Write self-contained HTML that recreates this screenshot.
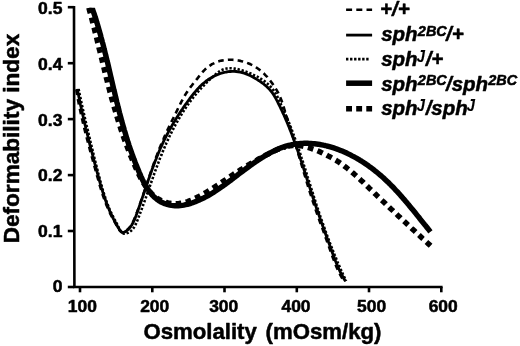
<!DOCTYPE html>
<html><head><meta charset="utf-8"><title>Deformability index vs Osmolality</title>
<style>
html,body{margin:0;padding:0;background:#fff;}
body{width:520px;height:346px;overflow:hidden;position:relative;font-family:"Liberation Sans",sans-serif;}
</style></head><body>
<svg width="520" height="346" viewBox="0 0 520 346" style="position:absolute;left:0;top:0;display:block;will-change:transform">
<rect width="520" height="346" fill="#fff"/>
<defs><clipPath id="plotclip"><rect x="60" y="7.8" width="460" height="300"/></clipPath></defs>
<g fill="none" stroke="#000" stroke-linejoin="round" clip-path="url(#plotclip)">
<path d="M86.6,-0.2 L87.1,1.7 L87.6,3.5 L88.1,5.3 L88.6,7.1 L89.1,8.9 L89.6,10.7 L90.1,12.5 L90.6,14.3 L91.0,16.1 L91.5,17.9 L92.0,19.7 L92.4,21.5 L92.9,23.3 L93.4,25.0 L93.8,26.8 L94.3,28.6 L94.7,30.4 L95.1,32.1 L95.6,33.9 L96.0,35.6 L96.5,37.4 L96.9,39.2 L97.3,40.9 L97.7,42.7 L98.2,44.4 L98.6,46.1 L99.0,47.9 L99.4,49.6 L99.9,51.4 L100.3,53.1 L100.7,54.8 L101.1,56.6 L101.6,58.3 L102.0,60.0 L102.4,61.8 L102.8,63.5 L103.2,65.2 L103.7,66.9 L104.1,68.6 L104.5,70.4 L104.9,72.1 L105.3,73.8 L105.8,75.5 L106.2,77.2 L106.6,78.9 L107.1,80.6 L107.5,82.3 L107.9,84.1 L108.4,85.8 L108.8,87.5 L109.3,89.2 L109.7,90.9 L110.2,92.6 L110.6,94.3 L111.1,96.0 L111.5,97.7 L112.0,99.4 L112.5,101.1 L112.9,102.8 L113.4,104.5 L113.9,106.2 L114.4,107.9 L114.9,109.6 L115.4,111.3 L115.9,113.0 L116.4,114.7 L116.9,116.4 L117.4,118.1 L117.9,119.8 L118.5,121.5 L119.0,123.2 L119.5,124.9 L120.1,126.6 L120.6,128.3 L121.2,130.0 L121.8,131.7 L122.4,133.4 L122.9,135.1 L123.5,136.8 L124.1,138.5 L124.7,140.2 L125.4,141.9 L126.0,143.6 L126.6,145.3 L127.3,147.0 L127.9,148.7 L128.6,150.4 L129.2,152.2 L129.9,153.9 L130.6,155.6 L131.3,157.3 L132.0,159.0 L132.7,160.7 L133.5,162.5 L134.2,164.2 L135.0,165.9 L135.7,167.6 L136.5,169.4 L137.3,171.1 L138.1,172.8 L138.9,174.5 L139.8,176.2 L140.6,177.8 L141.5,179.5 L142.4,181.1 L143.4,182.7 L144.3,184.2 L145.3,185.7 L146.3,187.2 L147.4,188.6 L148.5,190.0 L149.6,191.4 L150.7,192.7 L151.9,193.9 L153.2,195.1 L154.5,196.2 L155.8,197.2 L157.1,198.2 L158.6,199.1 L160.0,200.0 L161.5,200.7 L163.1,201.4 L164.7,202.0 L166.4,202.5 L168.1,202.9 L169.8,203.2 L171.6,203.5 L173.4,203.6 L175.2,203.7 L177.0,203.6 L178.9,203.5 L180.7,203.3 L182.5,202.9 L184.3,202.5 L186.1,202.0 L187.8,201.5 L189.5,200.8 L191.3,200.1 L193.0,199.4 L194.6,198.6 L196.3,197.8 L197.9,196.9 L199.6,196.1 L201.2,195.2 L202.8,194.3 L204.4,193.4 L205.9,192.5 L207.5,191.5 L209.0,190.6 L210.5,189.6 L212.1,188.7 L213.6,187.7 L215.1,186.7 L216.6,185.7 L218.1,184.8 L219.5,183.8 L221.0,182.8 L222.5,181.8 L224.0,180.8 L225.5,179.8 L226.9,178.8 L228.4,177.8 L229.9,176.8 L231.4,175.8 L232.9,174.8 L234.3,173.8 L235.8,172.8 L237.3,171.9 L238.8,170.9 L240.3,169.9 L241.9,169.0 L243.4,168.0 L244.9,167.1 L246.4,166.1 L247.9,165.2 L249.5,164.3 L251.0,163.4 L252.6,162.5 L254.1,161.5 L255.7,160.6 L257.3,159.8 L258.8,158.9 L260.4,158.0 L262.0,157.1 L263.6,156.3 L265.2,155.4 L266.9,154.6 L268.5,153.8 L270.1,152.9 L271.8,152.1 L273.4,151.3 L275.1,150.6 L276.8,149.8 L278.5,149.1 L280.1,148.5 L281.8,147.9 L283.6,147.3 L285.3,146.8" stroke-width="5.4" stroke-dasharray="5.7 4.5" stroke-dashoffset="-8.26"/>
<path d="M430.6,245.8 L429.3,244.6 L427.9,243.4 L426.6,242.1 L425.3,240.9 L424.0,239.7 L422.6,238.5 L421.3,237.3 L420.0,236.0 L418.7,234.8 L417.3,233.6 L416.0,232.4 L414.7,231.1 L413.4,229.9 L412.0,228.7 L410.7,227.5 L409.4,226.2 L408.1,225.0 L406.8,223.8 L405.5,222.6 L404.1,221.3 L402.8,220.1 L401.5,218.9 L400.2,217.6 L398.9,216.4 L397.6,215.2 L396.3,213.9 L395.0,212.7 L393.7,211.5 L392.4,210.2 L391.0,209.0 L389.7,207.8 L388.4,206.5 L387.1,205.3 L385.8,204.0 L384.5,202.8 L383.2,201.6 L381.9,200.3 L380.6,199.1 L379.3,197.8 L378.0,196.6 L376.7,195.3 L375.4,194.1 L374.1,192.8 L372.8,191.6 L371.5,190.3 L370.2,189.1 L368.9,187.8 L367.6,186.6 L366.3,185.3 L365.0,184.1 L363.7,182.8 L362.4,181.6 L361.1,180.4 L359.7,179.1 L358.4,177.9 L357.1,176.7 L355.8,175.5 L354.4,174.3 L353.1,173.1 L351.7,171.9 L350.3,170.8 L348.9,169.6 L347.5,168.5 L346.1,167.4 L344.7,166.3 L343.3,165.2 L341.8,164.2 L340.4,163.2 L338.9,162.1 L337.4,161.2 L335.9,160.2 L334.3,159.3 L332.8,158.4 L331.2,157.5 L329.6,156.6 L328.0,155.8 L326.4,154.9 L324.8,154.1 L323.1,153.4 L321.5,152.6 L319.8,151.8 L318.1,151.1 L316.5,150.4 L314.8,149.7 L313.0,149.1 L311.3,148.5 L309.6,147.9 L307.9,147.4 L306.1,146.9 L304.4,146.5 L302.7,146.1 L300.9,145.8 L299.2,145.6 L297.4,145.5 L295.7,145.4 L293.9,145.4 L292.2,145.5 L290.5,145.7 L288.7,146.0 L287.0,146.4 L285.3,146.8" stroke-width="5.4" stroke-dasharray="5.7 4.5"/>
<path d="M89.3,-0.0 L90.0,1.7 L90.6,3.5 L91.2,5.2 L91.8,7.0 L92.4,8.7 L93.0,10.5 L93.6,12.3 L94.2,14.0 L94.8,15.8 L95.3,17.5 L95.9,19.2 L96.4,21.0 L96.9,22.7 L97.5,24.5 L98.0,26.2 L98.5,28.0 L99.0,29.7 L99.5,31.5 L100.0,33.2 L100.5,34.9 L100.9,36.7 L101.4,38.4 L101.9,40.2 L102.3,41.9 L102.8,43.6 L103.3,45.4 L103.7,47.1 L104.1,48.8 L104.6,50.6 L105.0,52.3 L105.4,54.0 L105.9,55.8 L106.3,57.5 L106.7,59.2 L107.1,61.0 L107.6,62.7 L108.0,64.4 L108.4,66.2 L108.8,67.9 L109.2,69.6 L109.6,71.3 L110.0,73.1 L110.4,74.8 L110.8,76.5 L111.2,78.2 L111.6,80.0 L112.0,81.7 L112.4,83.4 L112.8,85.1 L113.2,86.9 L113.6,88.6 L114.0,90.3 L114.5,92.0 L114.9,93.8 L115.3,95.5 L115.7,97.2 L116.1,98.9 L116.5,100.6 L116.9,102.4 L117.4,104.1 L117.8,105.8 L118.2,107.5 L118.7,109.2 L119.1,111.0 L119.5,112.7 L120.0,114.4 L120.4,116.1 L120.9,117.8 L121.4,119.6 L121.8,121.3 L122.3,123.0 L122.8,124.7 L123.3,126.4 L123.8,128.1 L124.2,129.9 L124.8,131.6 L125.3,133.3 L125.8,135.0 L126.3,136.7 L126.8,138.5 L127.4,140.2 L127.9,141.9 L128.5,143.6 L129.0,145.3 L129.6,147.0 L130.2,148.8 L130.8,150.5 L131.4,152.2 L132.0,153.9 L132.6,155.6 L133.3,157.4 L133.9,159.1 L134.6,160.8 L135.2,162.5 L135.9,164.2 L136.6,165.9 L137.3,167.7 L138.0,169.4 L138.7,171.1 L139.4,172.8 L140.2,174.5 L140.9,176.3 L141.7,178.0 L142.5,179.7 L143.3,181.3 L144.2,183.0 L145.1,184.6 L146.0,186.2 L146.9,187.8 L147.9,189.3 L148.9,190.8 L150.0,192.2 L151.1,193.6 L152.2,195.0 L153.4,196.2 L154.7,197.4 L156.0,198.5 L157.3,199.6 L158.7,200.6 L160.2,201.5 L161.7,202.3 L163.3,203.0 L164.9,203.7 L166.5,204.2 L168.1,204.7 L169.8,205.1 L171.5,205.4 L173.2,205.6 L175.0,205.8 L176.7,205.8 L178.5,205.7 L180.3,205.6 L182.1,205.4 L183.8,205.1 L185.6,204.7 L187.4,204.3 L189.2,203.8 L191.0,203.3 L192.7,202.7 L194.5,202.0 L196.2,201.4 L197.9,200.6 L199.6,199.9 L201.3,199.1 L203.0,198.3 L204.6,197.5 L206.2,196.6 L207.8,195.8 L209.4,194.9 L210.9,194.0 L212.5,193.0 L214.0,192.1 L215.5,191.1 L217.0,190.1 L218.5,189.1 L219.9,188.1 L221.4,187.1 L222.9,186.1 L224.3,185.0 L225.8,184.0 L227.2,182.9 L228.6,181.8 L230.0,180.8 L231.5,179.7 L232.9,178.6 L234.3,177.5 L235.8,176.4 L237.2,175.3 L238.6,174.2 L240.0,173.1 L241.5,172.0 L242.9,171.0 L244.4,169.9 L245.8,168.8 L247.3,167.7 L248.7,166.7 L250.2,165.6 L251.7,164.5 L253.1,163.5 L254.6,162.5 L256.1,161.4 L257.6,160.4 L259.2,159.4 L260.7,158.5 L262.2,157.5 L263.8,156.6 L265.3,155.6 L266.9,154.7 L268.5,153.8 L270.1,152.9 L271.7,152.1 L273.4,151.3 L275.0,150.5 L276.7,149.7 L278.3,149.0 L280.0,148.3 L281.7,147.6 L283.4,147.0 L285.1,146.4 L286.8,145.9 L288.5,145.5 L290.3,145.1 L292.0,144.7 L293.7,144.4 L295.4,144.1 L297.2,143.9 L298.9,143.7 L300.7,143.5 L302.4,143.4 L304.2,143.3 L305.9,143.3 L307.6,143.3 L309.4,143.4 L311.1,143.5 L312.9,143.6 L314.6,143.8 L316.4,144.0 L318.1,144.2 L319.9,144.5 L321.6,144.8 L323.4,145.2 L325.1,145.5 L326.8,146.0 L328.5,146.4 L330.3,146.9 L332.0,147.4 L333.7,147.9 L335.4,148.5 L337.1,149.1 L338.8,149.7 L340.5,150.4 L342.2,151.1 L343.8,151.8 L345.5,152.5 L347.2,153.3 L348.8,154.1 L350.4,154.9 L352.1,155.8 L353.7,156.6 L355.3,157.5 L356.9,158.4 L358.5,159.3 L360.0,160.3 L361.6,161.2 L363.2,162.2 L364.7,163.2 L366.2,164.3 L367.7,165.3 L369.2,166.4 L370.7,167.4 L372.1,168.5 L373.6,169.6 L375.0,170.8 L376.4,171.9 L377.8,173.0 L379.2,174.2 L380.6,175.4 L381.9,176.5 L383.3,177.7 L384.6,179.0 L385.9,180.2 L387.2,181.4 L388.5,182.6 L389.7,183.9 L391.0,185.2 L392.3,186.4 L393.5,187.7 L394.7,189.0 L395.9,190.3 L397.2,191.6 L398.4,192.9 L399.6,194.3 L400.7,195.6 L401.9,196.9 L403.1,198.3 L404.3,199.6 L405.4,201.0 L406.6,202.3 L407.7,203.7 L408.9,205.1 L410.0,206.5 L411.2,207.9 L412.3,209.2 L413.4,210.6 L414.6,212.0 L415.7,213.4 L416.8,214.8 L417.9,216.2 L419.1,217.6 L420.2,219.1 L421.3,220.5 L422.5,221.9 L423.6,223.3 L424.7,224.7 L425.9,226.1 L427.0,227.5 L428.1,228.9 L429.3,230.4 L430.4,231.8" stroke-width="5.4"/>
<path d="M78.6,88.9 L79.0,90.9 L79.4,92.9 L79.8,94.9 L80.2,96.9 L80.7,98.9 L81.1,100.9 L81.5,102.9 L81.9,104.9 L82.4,106.9 L82.8,108.9 L83.3,110.9 L83.7,112.9 L84.2,114.9 L84.6,116.9 L85.1,118.9 L85.5,120.9 L86.0,122.9 L86.4,124.9 L86.9,126.9 L87.4,128.9 L87.9,130.8 L88.3,132.8 L88.8,134.8 L89.3,136.8 L89.8,138.8 L90.2,140.8 L90.7,142.8 L91.2,144.8 L91.7,146.8 L92.2,148.7 L92.7,150.7 L93.2,152.7 L93.6,154.7 L94.1,156.7 L94.6,158.7 L95.1,160.7 L95.6,162.7 L96.1,164.6 L96.6,166.6 L97.1,168.6 L97.6,170.6 L98.1,172.6 L98.6,174.6 L99.2,176.6 L99.7,178.5 L100.2,180.5 L100.7,182.5 L101.3,184.5 L101.8,186.4 L102.4,188.4 L102.9,190.4 L103.5,192.3 L104.1,194.3 L104.8,196.2 L105.4,198.1 L106.1,200.1 L106.7,202.0 L107.4,203.9 L108.2,205.8 L108.9,207.7 L109.7,209.5 L110.5,211.4 L111.4,213.2 L112.3,215.1 L113.2,216.9 L114.1,218.7 L115.1,220.5 L116.1,222.3 L117.1,224.2 L118.0,226.1 L119.0,228.1 L120.1,230.0 L121.2,231.8 L122.5,233.1 L124.1,233.7 L126.0,233.5 L128.0,232.8 L129.9,231.7 L131.5,230.4 L132.9,228.9 L134.1,227.3 L135.1,225.5 L136.0,223.7 L136.8,221.8 L137.6,219.9 L138.3,218.0 L139.1,216.0 L139.8,214.1 L140.5,212.2 L141.3,210.2 L142.0,208.3 L142.7,206.4 L143.4,204.4 L144.1,202.5 L144.8,200.6 L145.5,198.6 L146.2,196.7 L146.8,194.8 L147.5,192.9 L148.2,190.9 L148.9,189.0 L149.6,187.1 L150.2,185.1 L150.9,183.2 L151.6,181.3 L152.3,179.4 L153.0,177.4 L153.6,175.5 L154.3,173.6 L155.0,171.7 L155.7,169.8 L156.4,167.9 L157.1,166.0 L157.9,164.0 L158.6,162.1 L159.3,160.2 L160.0,158.3 L160.8,156.4 L161.6,154.6 L162.3,152.7 L163.1,150.8 L163.9,148.9 L164.7,147.0 L165.5,145.2 L166.3,143.3 L167.2,141.4 L168.0,139.6 L168.9,137.7 L169.8,135.8 L170.7,134.0 L171.6,132.2 L172.5,130.3 L173.5,128.5 L174.4,126.7 L175.4,124.9 L176.4,123.1 L177.4,121.3 L178.4,119.5 L179.5,117.7 L180.5,116.0 L181.6,114.2 L182.7,112.5 L183.8,110.8 L184.9,109.0 L186.1,107.3 L187.2,105.7 L188.4,104.0 L189.6,102.3 L190.8,100.7 L192.0,99.1 L193.3,97.5 L194.6,95.9 L195.9,94.3 L197.2,92.7 L198.5,91.2 L199.8,89.7 L201.2,88.2 L202.6,86.7 L204.0,85.3 L205.4,83.8 L206.9,82.4 L208.3,81.0 L209.8,79.6 L211.4,78.1 L212.9,76.7 L214.5,75.3 L216.1,73.9 L217.8,72.6 L219.5,71.4 L221.2,70.3 L223.0,69.5 L224.9,68.9 L226.8,68.5 L228.7,68.2 L230.7,68.2 L232.7,68.3 L234.7,68.6 L236.7,68.9 L238.8,69.4 L240.8,70.0 L242.8,70.6 L244.8,71.3 L246.8,72.0 L248.8,72.7 L250.7,73.5 L252.7,74.4 L254.5,75.3 L256.4,76.2 L258.2,77.1 L260.0,78.2 L261.7,79.3 L263.4,80.4 L265.0,81.6 L266.5,82.8 L268.1,84.2 L269.5,85.5 L270.9,87.0 L272.2,88.5 L273.4,90.1 L274.6,91.8 L275.6,93.5 L276.7,95.4 L277.6,97.2 L278.5,99.1 L279.4,101.0 L280.3,102.9 L281.1,104.8 L282.0,106.6 L282.9,108.5 L283.7,110.3 L284.5,112.2 L285.3,114.0 L286.1,115.9 L286.9,117.8 L287.7,119.7 L288.5,121.5 L289.3,123.4 L290.0,125.3 L290.8,127.2 L291.5,129.1 L292.2,131.0 L292.9,132.9 L293.6,134.8 L294.3,136.8 L295.0,138.7 L295.7,140.6 L296.4,142.5 L297.1,144.4 L297.7,146.4 L298.4,148.3 L299.1,150.3 L299.7,152.2 L300.4,154.1 L301.0,156.1 L301.6,158.0 L302.3,160.0 L302.9,161.9 L303.5,163.9 L304.1,165.8 L304.8,167.8 L305.4,169.7 L306.0,171.7 L306.6,173.6 L307.2,175.6 L307.8,177.6 L308.5,179.5 L309.1,181.5 L309.7,183.4 L310.3,185.4 L310.9,187.3 L311.5,189.3 L312.1,191.3 L312.8,193.2 L313.4,195.2 L314.0,197.1 L314.6,199.1 L315.3,201.0 L315.9,203.0 L316.5,204.9 L317.2,206.9 L317.8,208.8 L318.5,210.7 L319.1,212.7 L319.8,214.6 L320.4,216.6 L321.1,218.5 L321.7,220.4 L322.4,222.4 L323.1,224.3 L323.8,226.2 L324.5,228.1 L325.1,230.1 L325.8,232.0 L326.5,233.9 L327.2,235.8 L327.9,237.7 L328.7,239.7 L329.4,241.6 L330.1,243.5 L330.8,245.4 L331.6,247.3 L332.3,249.2 L333.1,251.1 L333.8,253.0 L334.6,254.9 L335.4,256.8 L336.2,258.6 L336.9,260.5 L337.7,262.4 L338.5,264.3 L339.4,266.2 L340.2,268.0 L341.0,269.9 L341.8,271.8 L342.7,273.7 L343.5,275.5 L344.4,277.4 L345.2,279.2 L346.1,281.1" stroke-width="2.6" stroke-dasharray="2.3 1.8"/>
<path d="M76.3,89.4 L76.6,91.5 L76.9,93.6 L77.3,95.6 L77.7,97.7 L78.0,99.7 L78.4,101.8 L78.8,103.9 L79.2,105.9 L79.7,108.0 L80.1,110.0 L80.5,112.1 L81.0,114.1 L81.4,116.1 L81.9,118.2 L82.4,120.2 L82.8,122.3 L83.3,124.3 L83.8,126.3 L84.3,128.4 L84.8,130.4 L85.3,132.4 L85.9,134.5 L86.4,136.5 L86.9,138.5 L87.4,140.5 L88.0,142.6 L88.5,144.6 L89.1,146.6 L89.6,148.6 L90.1,150.7 L90.7,152.7 L91.3,154.7 L91.8,156.7 L92.4,158.8 L92.9,160.8 L93.5,162.8 L94.0,164.8 L94.6,166.9 L95.2,168.9 L95.7,170.9 L96.3,172.9 L96.8,175.0 L97.4,177.0 L98.0,179.0 L98.5,181.0 L99.1,183.1 L99.7,185.1 L100.3,187.1 L100.9,189.1 L101.5,191.1 L102.2,193.1 L102.8,195.1 L103.5,197.0 L104.2,199.0 L104.9,201.0 L105.6,202.9 L106.4,204.9 L107.2,206.8 L108.0,208.7 L108.8,210.6 L109.7,212.5 L110.6,214.3 L111.5,216.2 L112.5,218.0 L113.5,219.9 L114.5,221.7 L115.6,223.6 L116.7,225.5 L117.8,227.5 L119.0,229.4 L120.3,231.1 L121.7,232.3 L123.3,232.4 L125.1,231.7 L126.8,230.3 L128.5,228.7 L129.9,227.0 L131.2,225.2 L132.3,223.4 L133.3,221.5 L134.1,219.6 L134.9,217.7 L135.7,215.8 L136.4,213.8 L137.2,211.8 L137.9,209.9 L138.6,207.9 L139.3,205.9 L140.0,204.0 L140.7,202.0 L141.4,200.0 L142.0,198.0 L142.7,196.0 L143.4,194.1 L144.1,192.1 L144.7,190.1 L145.4,188.1 L146.1,186.1 L146.8,184.1 L147.4,182.1 L148.1,180.2 L148.8,178.2 L149.4,176.2 L150.1,174.2 L150.8,172.2 L151.5,170.2 L152.2,168.3 L152.9,166.3 L153.6,164.3 L154.3,162.3 L155.0,160.4 L155.7,158.4 L156.4,156.4 L157.2,154.5 L157.9,152.5 L158.7,150.6 L159.4,148.6 L160.2,146.7 L161.0,144.7 L161.8,142.8 L162.6,140.9 L163.5,139.0 L164.3,137.0 L165.2,135.1 L166.0,133.2 L166.9,131.3 L167.8,129.4 L168.7,127.5 L169.6,125.6 L170.5,123.8 L171.4,121.9 L172.3,120.0 L173.3,118.1 L174.2,116.2 L175.1,114.3 L176.1,112.5 L177.0,110.6 L177.9,108.7 L178.9,106.8 L179.8,104.9 L180.7,103.1 L181.7,101.2 L182.7,99.4 L183.7,97.5 L184.7,95.7 L185.8,93.9 L186.9,92.2 L188.1,90.5 L189.3,88.8 L190.5,87.1 L191.8,85.5 L193.1,83.8 L194.4,82.2 L195.7,80.6 L197.1,78.9 L198.4,77.2 L199.8,75.5 L201.1,73.9 L202.5,72.2 L203.9,70.6 L205.4,69.1 L207.0,67.7 L208.6,66.4 L210.3,65.3 L212.0,64.2 L213.9,63.3 L215.7,62.4 L217.7,61.7 L219.6,61.1 L221.7,60.6 L223.7,60.3 L225.8,60.0 L227.9,59.8 L230.0,59.8 L232.1,59.8 L234.2,59.9 L236.3,60.2 L238.4,60.5 L240.5,60.9 L242.6,61.4 L244.7,62.0 L246.7,62.7 L248.7,63.5 L250.6,64.3 L252.5,65.2 L254.3,66.3 L256.1,67.4 L257.8,68.5 L259.5,69.8 L261.1,71.1 L262.7,72.4 L264.2,73.8 L265.6,75.3 L267.1,76.8 L268.4,78.4 L269.7,80.0 L271.0,81.7 L272.3,83.4 L273.5,85.1 L274.6,86.9 L275.7,88.6 L276.8,90.4 L277.9,92.3 L278.8,94.1 L279.7,96.0 L280.5,97.9 L281.3,99.9 L282.0,101.9 L282.6,103.8 L283.2,105.8 L283.9,107.8 L284.5,109.8 L285.1,111.8 L285.7,113.8 L286.3,115.8 L287.0,117.8 L287.6,119.8 L288.2,121.8 L288.9,123.8 L289.5,125.8 L290.2,127.8 L290.8,129.8 L291.4,131.8 L292.1,133.8 L292.7,135.8 L293.4,137.8 L294.0,139.8 L294.6,141.8 L295.3,143.8 L295.9,145.8 L296.5,147.8 L297.1,149.8 L297.7,151.8 L298.3,153.8 L298.9,155.8 L299.5,157.8 L300.1,159.8 L300.7,161.8 L301.3,163.8 L301.9,165.8 L302.5,167.8 L303.1,169.8 L303.7,171.9 L304.3,173.9 L304.9,175.9 L305.5,177.9 L306.1,179.9 L306.7,181.9 L307.3,183.9 L307.9,185.9 L308.5,187.9 L309.1,189.9 L309.8,191.9 L310.4,193.9 L311.1,195.9 L311.7,197.9 L312.4,199.9 L313.0,201.9 L313.7,203.9 L314.4,205.8 L315.0,207.8 L315.7,209.8 L316.4,211.8 L317.1,213.8 L317.8,215.8 L318.5,217.7 L319.2,219.7 L319.9,221.7 L320.6,223.7 L321.3,225.6 L322.0,227.6 L322.8,229.6 L323.5,231.5 L324.2,233.5 L324.9,235.5 L325.6,237.5 L326.3,239.4 L327.0,241.4 L327.8,243.4 L328.5,245.3 L329.2,247.3 L329.9,249.3 L330.6,251.3 L331.3,253.2 L332.0,255.2 L332.7,257.2 L333.4,259.1 L334.2,261.1 L334.9,263.0 L335.7,265.0 L336.5,266.9 L337.3,268.8 L338.2,270.7 L339.1,272.6 L340.1,274.5 L341.1,276.3 L342.1,278.2 L343.2,280.0 L344.3,281.8" stroke-width="2.6" stroke-dasharray="5.6 4.2"/>
<path d="M77.4,88.9 L77.7,90.9 L78.1,92.9 L78.5,94.9 L78.9,96.9 L79.3,98.8 L79.7,100.8 L80.1,102.8 L80.5,104.8 L81.0,106.8 L81.4,108.7 L81.8,110.7 L82.3,112.7 L82.7,114.7 L83.2,116.7 L83.6,118.6 L84.1,120.6 L84.5,122.6 L85.0,124.6 L85.5,126.5 L85.9,128.5 L86.4,130.5 L86.9,132.5 L87.4,134.4 L87.9,136.4 L88.4,138.4 L88.8,140.4 L89.3,142.3 L89.8,144.3 L90.3,146.3 L90.8,148.2 L91.4,150.2 L91.9,152.2 L92.4,154.1 L92.9,156.1 L93.4,158.0 L93.9,160.0 L94.4,162.0 L94.9,163.9 L95.5,165.9 L96.0,167.8 L96.5,169.8 L97.0,171.7 L97.5,173.7 L98.1,175.6 L98.6,177.6 L99.1,179.5 L99.7,181.5 L100.2,183.4 L100.8,185.3 L101.3,187.3 L101.9,189.2 L102.5,191.1 L103.1,193.1 L103.7,195.0 L104.3,196.9 L105.0,198.8 L105.7,200.7 L106.3,202.6 L107.1,204.5 L107.8,206.4 L108.6,208.3 L109.3,210.1 L110.2,212.0 L111.0,213.8 L111.9,215.7 L112.8,217.5 L113.7,219.4 L114.7,221.2 L115.7,223.0 L116.7,224.9 L117.7,226.7 L118.8,228.6 L119.9,230.3 L121.1,231.7 L122.5,232.4 L124.2,232.2 L125.8,231.3 L127.5,230.0 L129.0,228.5 L130.4,227.0 L131.6,225.3 L132.6,223.5 L133.5,221.7 L134.4,219.9 L135.1,218.0 L135.9,216.1 L136.6,214.2 L137.3,212.3 L138.0,210.3 L138.6,208.4 L139.3,206.5 L140.0,204.6 L140.7,202.7 L141.3,200.7 L142.0,198.8 L142.6,196.9 L143.3,195.0 L143.9,193.0 L144.6,191.1 L145.3,189.2 L145.9,187.3 L146.6,185.3 L147.2,183.4 L147.9,181.5 L148.5,179.6 L149.2,177.7 L149.9,175.7 L150.5,173.8 L151.2,171.9 L151.9,170.0 L152.6,168.1 L153.3,166.2 L154.0,164.3 L154.7,162.4 L155.4,160.6 L156.2,158.7 L156.9,156.8 L157.7,154.9 L158.4,153.1 L159.2,151.2 L160.0,149.3 L160.8,147.5 L161.7,145.7 L162.5,143.8 L163.3,142.0 L164.2,140.2 L165.1,138.4 L166.0,136.6 L166.9,134.8 L167.9,133.0 L168.8,131.2 L169.8,129.4 L170.8,127.7 L171.8,125.9 L172.8,124.1 L173.8,122.4 L174.9,120.7 L175.9,118.9 L177.0,117.2 L178.1,115.5 L179.2,113.8 L180.3,112.1 L181.4,110.4 L182.6,108.7 L183.7,107.0 L184.9,105.3 L186.1,103.7 L187.3,102.0 L188.5,100.4 L189.7,98.7 L190.9,97.1 L192.2,95.5 L193.4,93.9 L194.7,92.3 L196.0,90.8 L197.4,89.2 L198.8,87.8 L200.2,86.3 L201.6,84.9 L203.1,83.6 L204.7,82.3 L206.2,81.0 L207.9,79.8 L209.6,78.7 L211.3,77.7 L213.0,76.7 L214.8,75.8 L216.7,74.9 L218.6,74.2 L220.4,73.5 L222.4,72.9 L224.3,72.4 L226.3,72.0 L228.2,71.7 L230.2,71.5 L232.2,71.4 L234.2,71.4 L236.2,71.5 L238.2,71.8 L240.2,72.1 L242.2,72.6 L244.2,73.2 L246.1,73.9 L248.1,74.7 L250.0,75.6 L251.9,76.5 L253.7,77.5 L255.5,78.6 L257.3,79.6 L259.0,80.7 L260.7,81.9 L262.3,83.0 L263.9,84.2 L265.4,85.5 L266.9,86.8 L268.3,88.1 L269.7,89.6 L270.9,91.0 L272.2,92.6 L273.3,94.2 L274.4,96.0 L275.4,97.7 L276.4,99.6 L277.4,101.4 L278.3,103.3 L279.2,105.1 L280.1,106.9 L281.0,108.8 L281.9,110.6 L282.7,112.5 L283.6,114.3 L284.4,116.2 L285.2,118.0 L286.0,119.9 L286.8,121.7 L287.6,123.6 L288.3,125.4 L289.1,127.3 L289.8,129.2 L290.6,131.1 L291.3,132.9 L292.0,134.8 L292.7,136.7 L293.4,138.6 L294.1,140.5 L294.8,142.4 L295.5,144.3 L296.2,146.2 L296.8,148.1 L297.5,150.0 L298.2,152.0 L298.8,153.9 L299.5,155.8 L300.1,157.7 L300.7,159.6 L301.4,161.6 L302.0,163.5 L302.6,165.4 L303.3,167.4 L303.9,169.3 L304.5,171.2 L305.1,173.2 L305.8,175.1 L306.4,177.0 L307.0,179.0 L307.6,180.9 L308.2,182.8 L308.8,184.8 L309.5,186.7 L310.1,188.6 L310.7,190.6 L311.3,192.5 L312.0,194.4 L312.6,196.3 L313.2,198.3 L313.9,200.2 L314.5,202.1 L315.1,204.0 L315.8,206.0 L316.4,207.9 L317.1,209.8 L317.8,211.7 L318.4,213.6 L319.1,215.5 L319.7,217.4 L320.4,219.4 L321.1,221.3 L321.7,223.2 L322.4,225.1 L323.1,227.0 L323.8,228.9 L324.5,230.8 L325.1,232.7 L325.8,234.6 L326.5,236.5 L327.2,238.4 L327.9,240.3 L328.6,242.2 L329.3,244.1 L330.0,246.0 L330.7,247.9 L331.3,249.8 L332.0,251.7 L332.7,253.6 L333.4,255.5 L334.2,257.4 L334.9,259.3 L335.6,261.2 L336.4,263.1 L337.2,265.0 L338.0,266.8 L338.8,268.7 L339.6,270.5 L340.5,272.3 L341.4,274.1 L342.4,275.9 L343.4,277.7 L344.4,279.5 L345.5,281.2" stroke-width="2.8"/>
</g>
<g fill="none" stroke="#000" stroke-width="2.6">
<path d="M74.0,5.9 L74.4,287 H442.6"/>
<path d="M67.8,287.0 H74.2"/>
<path d="M67.8,231.0 H74.2"/>
<path d="M67.8,175.1 H74.2"/>
<path d="M67.8,119.1 H74.2"/>
<path d="M67.8,63.2 H74.2"/>
<path d="M67.8,7.2 H74.2"/>
<path d="M80.0,287 V292.3"/>
<path d="M152.3,287 V292.3"/>
<path d="M224.5,287 V292.3"/>
<path d="M296.8,287 V292.3"/>
<path d="M369.0,287 V292.3"/>
<path d="M441.3,287 V292.3"/>
</g>
<g font-family="Liberation Sans, sans-serif" font-weight="bold" fill="#000" stroke="#000" stroke-width="0.5" stroke-linejoin="round">
<text transform="translate(62.5,291.5) scale(1.07,1.0)" font-size="16.4" text-anchor="end" >0</text>
<text transform="translate(62.5,237.3) scale(1.07,1.0)" font-size="16.4" text-anchor="end" >0.1</text>
<text transform="translate(62.5,181.3) scale(1.07,1.0)" font-size="16.4" text-anchor="end" >0.2</text>
<text transform="translate(62.5,126.0) scale(1.07,1.0)" font-size="16.4" text-anchor="end" >0.3</text>
<text transform="translate(62.5,69.6) scale(1.07,1.0)" font-size="16.4" text-anchor="end" >0.4</text>
<text transform="translate(62.5,14.1) scale(1.07,1.0)" font-size="16.4" text-anchor="end" >0.5</text>
<text transform="translate(82.4,311.8) scale(1.05,1.0)" font-size="16.6" text-anchor="middle" >100</text>
<text transform="translate(154.7,311.8) scale(1.05,1.0)" font-size="16.6" text-anchor="middle" >200</text>
<text transform="translate(223.7,311.8) scale(1.05,1.0)" font-size="16.6" text-anchor="middle" >300</text>
<text transform="translate(296.0,311.8) scale(1.05,1.0)" font-size="16.6" text-anchor="middle" >400</text>
<text transform="translate(371.6,311.8) scale(1.05,1.0)" font-size="16.6" text-anchor="middle" >500</text>
<text transform="translate(443.2,311.8) scale(1.05,1.0)" font-size="16.6" text-anchor="middle" >600</text>
<text transform="translate(143.4,339.4) scale(1.0,1.0)" font-size="22" text-anchor="start" textLength="113.45" lengthAdjust="spacingAndGlyphs">Osmolality</text>
<text transform="translate(265.6,339.4) scale(1.0,1.0)" font-size="22" text-anchor="start" textLength="115.9" lengthAdjust="spacingAndGlyphs">(mOsm/kg)</text>
<text transform="translate(19.2,243.3) rotate(-90)" font-size="22.3" text-anchor="start" textLength="209.5" lengthAdjust="spacingAndGlyphs">Deformability index</text>
</g>
<g fill="none" stroke="#000">
<path d="M346.1,9.7 H372.1" stroke-width="2.5" stroke-dasharray="6 4.2"/>
<path d="M346.1,35.1 H372.1" stroke-width="2.8"/>
<path d="M346.0,59.2 H369.6" stroke-width="2.7" stroke-dasharray="2.4 1.64"/>
<path d="M346.1,83.2 H372.1" stroke-width="5.5"/>
<path d="M346.1,108.8 H372.1" stroke-width="5.5" stroke-dasharray="5.9 4.2"/>
</g>
<g font-family="Liberation Sans, sans-serif" font-weight="bold" font-style="italic" fill="#000" stroke="#000" stroke-width="0.5" stroke-linejoin="round">
<text transform="translate(380.10,16.1)" font-size="20.5">+/+</text>
<text transform="translate(381.20,41.3)" font-size="20.5">sph</text>
<text transform="translate(417.85,35.9) scale(1.035,1)" font-size="14">2BC</text>
<text transform="translate(445.95,41.3)" font-size="20.5">/+</text>
<text transform="translate(381.20,66.2)" font-size="20.5">sph</text>
<text transform="translate(416.65,61.6) scale(0.95,1.06)" font-size="15.5" stroke-width="0.15">J</text>
<text transform="translate(425.63,66.2)" font-size="20.5">/+</text>
<text transform="translate(381.20,90.5)" font-size="20.5">sph</text>
<text transform="translate(417.85,85.1) scale(1.035,1)" font-size="14">2BC</text>
<text transform="translate(445.95,90.5)" font-size="20.5">/sph</text>
<text transform="translate(488.30,85.1) scale(1.035,1)" font-size="14">2BC</text>
<text transform="translate(381.20,115.3)" font-size="20.5">sph</text>
<text transform="translate(416.65,110.7) scale(0.95,1.06)" font-size="15.5" stroke-width="0.15">J</text>
<text transform="translate(425.63,115.3)" font-size="20.5">/sph</text>
<text transform="translate(466.78,110.7) scale(0.95,1.06)" font-size="15.5" stroke-width="0.15">J</text>
</g>
</svg>
</body></html>
